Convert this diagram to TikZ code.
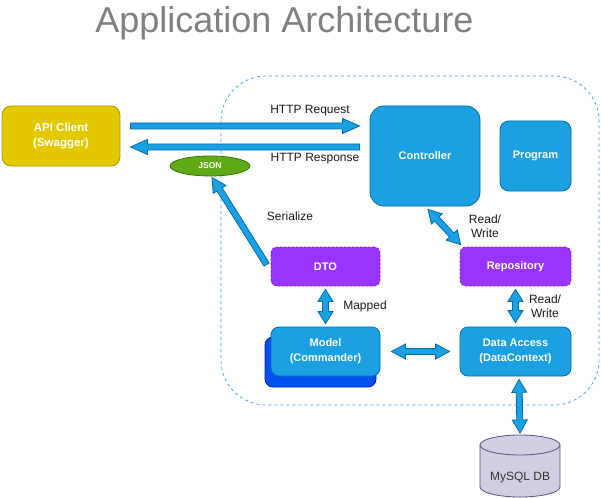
\documentclass[tikz,border=0pt]{standalone}
\usepackage{fontspec}
\setmainfont{Liberation Sans}
\usetikzlibrary{calc,shapes.geometric}
\definecolor{bluefill}{HTML}{1BA1E2}
\definecolor{bluedraw}{HTML}{006EAF}
\definecolor{yfill}{HTML}{E3C800}
\definecolor{ydraw}{HTML}{B09500}
\definecolor{pfill}{HTML}{9933FF}
\definecolor{pdraw}{HTML}{7A1FD6}
\definecolor{gfill}{HTML}{60A917}
\definecolor{gdraw}{HTML}{2D7600}
\definecolor{dbfill}{HTML}{D0CEE2}
\definecolor{dbdraw}{HTML}{56517E}
\definecolor{stackfill}{HTML}{0050EF}
\definecolor{stackdraw}{HTML}{001DBC}
\definecolor{contdraw}{HTML}{3399FF}
\definecolor{titlegray}{HTML}{808080}
\definecolor{lblcol}{HTML}{1A1A1A}
\tikzset{
  flex/.style={fill=bluefill, draw=bluedraw, line width=0.8pt, line join=miter},
  box/.style={draw, line width=0.8pt, inner sep=0pt, align=center, text=white,
    font=\fontsize{11}{15}\selectfont\bfseries},
  bluebox/.style={box, fill=bluefill, draw=bluedraw},
  purplebox/.style={box, fill=pfill, draw=pdraw, dashed, dash pattern=on 2pt off 2pt},
  lbl/.style={text=lblcol, align=center, inner sep=0pt, font=\fontsize{12}{14}\selectfont},
}
\newcommand\sarrow[3]{%
  \path[flex] let \p1=#2, \p2=#3, \n1={atan2(\y2-\y1,\x2-\x1)}, \n2={veclen(\x2-\x1,\y2-\y1)} in
    [shift={(\p1)}, rotate=\n1]
    (0,3) -- (\n2-#1,3) -- (\n2-#1,7.5) -- (\n2,0) -- (\n2-#1,-7.5) -- (\n2-#1,-3) -- (0,-3) -- cycle;}
\newcommand\darrow[3]{%
  \path[flex] let \p1=#2, \p2=#3, \n1={atan2(\y2-\y1,\x2-\x1)}, \n2={veclen(\x2-\x1,\y2-\y1)} in
    [shift={(\p1)}, rotate=\n1]
    (0,0) -- (#1,7.5) -- (#1,3) -- (\n2-#1,3) -- (\n2-#1,7.5) -- (\n2,0) -- (\n2-#1,-7.5) -- (\n2-#1,-3) -- (#1,-3) -- (#1,-7.5) -- cycle;}
\begin{document}
\begin{tikzpicture}[x=1pt,y=-1pt]
\useasboundingbox (0,0) rectangle (601,497);
% title
\node[anchor=base, text=titlegray, inner sep=0pt, font=\fontsize{36}{40}\selectfont] (title) at (284.5,33) {Application Architecture};
% container
\draw[contdraw, line width=0.7pt, dash pattern=on 3pt off 3pt, rounded corners=45] (221,76) rectangle (599,405);
% nodes
\node[box, fill=yfill, draw=ydraw, rounded corners=9, minimum width=118, minimum height=60, font=\fontsize{11.5}{15}\selectfont\bfseries] (api) at (61,136) {API Client\\(Swagger)};
\node[bluebox, rounded corners=14, minimum width=110, minimum height=100] (ctrl) at (425,156) {Controller};
\node[bluebox, rounded corners=9, minimum width=71, minimum height=70] (prog) at (535.5,156) {Program};
\node[ellipse, fill=gfill, draw=gdraw, line width=0.8pt, minimum width=80, minimum height=20, inner sep=0pt, text=white, font=\fontsize{8.5}{10}\selectfont\bfseries] (json) at (210,166) {JSON};
\node[purplebox, rounded corners=6, minimum width=109, minimum height=39] (dto) at (325.5,266.5) {DTO};
\node[purplebox, rounded corners=6, minimum width=111, minimum height=39] (repo) at (515.5,266.5) {Repository};
\path[fill=stackfill, draw=stackdraw, line width=0.8pt, rounded corners=8] (265,337) rectangle (376,387);
\node[bluebox, rounded corners=8, minimum width=109, minimum height=49] (model) at (325.5,351.5) {Model\\(Commander)};
\node[bluebox, rounded corners=8, minimum width=111, minimum height=49] (data) at (515.5,351.5) {Data Access\\(DataContext)};
% database cylinder
\path[fill=dbfill, draw=dbdraw, line width=0.8pt] (480,445) -- (480,487)
  arc[start angle=180, end angle=0, x radius=40, y radius=10] -- (560,445)
  arc[start angle=0, end angle=-180, x radius=40, y radius=10] -- cycle;
\draw[dbdraw, line width=0.8pt] (480,445) arc[start angle=180, end angle=0, x radius=40, y radius=10];
\coordinate (dbtop) at (520,435);
\node[lbl, text=black!80] (db) at (520,478) {MySQL DB};
% connectors
\sarrow{17}{($(api.east)+(10,-10)$)}{($(ctrl.west)+(-10,-30)$)}
\sarrow{17}{($(ctrl.west)+(-10,-9)$)}{($(api.east)+(10,11)$)}
\sarrow{14}{($(dto.west)+(-4,-2)$)}{($(json.south)+(2,1)$)}
\darrow{13}{($(ctrl.south)+(3,3)$)}{($(repo.north west)+(1,-2)$)}
\darrow{12}{($(dto.south)+(0,3)$)}{($(model.north)+(0,-3)$)}
\darrow{14}{($(model.east)+(11,0)$)}{($(data.west)+(-10,0)$)}
\darrow{12}{($(repo.south)+(0,3)$)}{($(data.north)+(0,-4)$)}
\darrow{13}{($(data.south)+(3.5,3)$)}{($(dbtop)+(0,-2)$)}
% labels
\node[lbl] (lreq) at (310,111) {HTTP Request};
\node[lbl] (lresp) at (315,159) {HTTP Response};
\node[lbl] (lser) at (290,216) {Serialize};
\node[lbl] (lrw1) at (485,226) {Read/\\Write};
\node[lbl] (lmap) at (365,306) {Mapped};
\node[lbl] (lrw2) at (545,306) {Read/\\Write};
\end{tikzpicture}
\end{document}
